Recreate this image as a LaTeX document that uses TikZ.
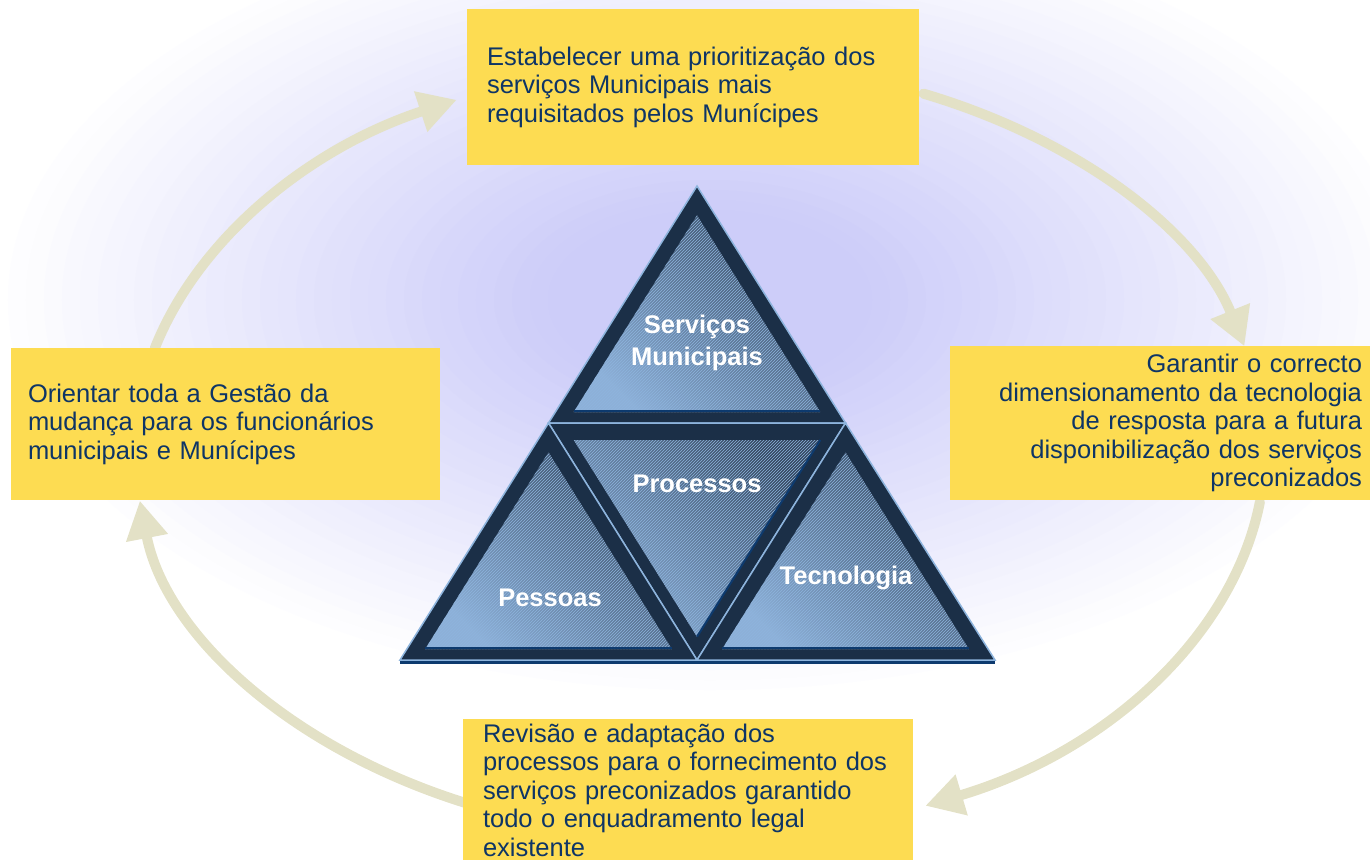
\documentclass[tikz,border=0pt]{standalone}
\usepackage{fontspec}
\setmainfont{Liberation Sans}
\usetikzlibrary{arrows.meta,calc,patterns}

\definecolor{boxyellow}{HTML}{FDDC52}
\definecolor{textnavy}{HTML}{0E3566}
\definecolor{arrowbeige}{HTML}{E3E1C6}
\definecolor{trinavy}{HTML}{1B2F47}
\definecolor{triedge}{HTML}{8DB4DD}
\definecolor{facedark}{HTML}{34475F}
\definecolor{facelight}{HTML}{8DB0D8}
\definecolor{baseblue}{HTML}{0D3A6E}
\definecolor{glowa}{HTML}{CDCDF9}

\begin{document}
\begin{tikzpicture}
[x=1pt, y=-1pt,
 box/.style={fill=boxyellow, text=textnavy, font=\fontsize{25.5}{28.5}\selectfont, inner ysep=0pt},
 cyc/.style={draw=arrowbeige, line width=10pt, line cap=round, -{Triangle[length=38pt,width=40pt]}},
 tri/.style={fill=trinavy, draw=triedge, line width=1.5pt, line join=miter},
 face/.style={left color=facedark, right color=facelight, shading angle=-45},
 hatch/.style={pattern=north east lines, pattern color=triedge, fill opacity=0.3},
 lbl/.style={text=white, font=\fontsize{25.5}{32}\selectfont\bfseries, align=center}
]
\useasboundingbox (0,0) rectangle (1370,859);

% soft glow behind the triangle
\coordinate (gc) at (710,300);
\foreach \k in {1,...,40}{
  \pgfmathsetmacro\r{1.0-(\k-1)/40}
  \pgfmathsetmacro\p{min(100,100*(1-\r)/0.76)}
  \fill [glowa!\p!white] (gc) ellipse ({720*\r} and {400*\r});
}

% cycle of arrows round the triangle
\coordinate (ctr) at (700,450);
\coordinate (c1) at ($(ctr)+(195.2:565 and 388)$);
\coordinate (c2) at ($(ctr)+(293.3:565 and 388)$);
\coordinate (c3) at ($(ctr)+(7.7:565 and 388)$);
\coordinate (c4) at ($(ctr)+(114.6:565 and 388)$);
\draw [cyc] (c1) arc [start angle=195.2, end angle=244.5, x radius=565, y radius=388];
\draw [cyc] (c2) arc [start angle=293.3, end angle=344.5, x radius=565, y radius=388];
\draw [cyc] (c3) arc [start angle=7.7, end angle=66.5, x radius=565, y radius=388];
\draw [cyc] (c4) arc [start angle=114.6, end angle=172.5, x radius=565, y radius=388];

% triangle
\draw [tri] (697,186) -- (548.5,423) -- (845.5,423) -- cycle;
\draw [tri] (548.5,423) -- (845.5,423) -- (697,660) -- cycle;
\draw [tri] (548.5,423) -- (400,660) -- (697,660) -- cycle;
\draw [tri] (845.5,423) -- (697,660) -- (995,660) -- cycle;
\draw [baseblue, line width=2.5pt] (400,662.5) -- (995,662.5);
\shade [face] (697,215.3) -- (573.7,412) -- (820.3,412) -- cycle;
\shade [face] (573.7,440) -- (820.3,440) -- (697,636.7) -- cycle;
\shade [face] (548.5,452.3) -- (425.2,649) -- (671.8,649) -- cycle;
\shade [face] (845.5,452.3) -- (722.2,649) -- (968.8,649) -- cycle;
\fill [hatch] (697,215.3) -- (573.7,412) -- (820.3,412) -- cycle;
\fill [hatch] (573.7,440) -- (820.3,440) -- (697,636.7) -- cycle;
\fill [hatch] (548.5,452.3) -- (425.2,649) -- (671.8,649) -- cycle;
\fill [hatch] (845.5,452.3) -- (722.2,649) -- (968.8,649) -- cycle;
\draw [baseblue, line width=2pt] (573.7,411) -- (820.3,411);
\draw [baseblue, line width=2pt] (820.3,440) -- (697,636.7);
\draw [baseblue, line width=2pt] (425.2,648) -- (671.8,648);
\draw [baseblue, line width=2pt] (722.2,648) -- (968.8,648);

\node [lbl] (serv) at (697,343) {Serviços\\Municipais};
\node [lbl] (proc) at (697,484) {Processos};
\node [lbl] (pess) at (550,598) {Pessoas};
\node [lbl] (tecn) at (846,578) {Tecnologia};

% boxes
\node [box, minimum width=452, minimum height=156, text width=412, inner xsep=20pt, align=left] (prio) at (693,87)
 {Estabelecer uma prioritização dos\\serviços Municipais mais\\requisitados pelos Munícipes};
\node [box, minimum width=420, minimum height=154, text width=404, inner xsep=8pt, align=right] (dim) at (1160,423)
 {Garantir o correcto\\dimensionamento da tecnologia\\de resposta para a futura\\disponibilização dos serviços\\preconizados};
\node [box, minimum width=450, minimum height=142, text width=410, inner xsep=20pt, align=left] (rev) at (688,790)
 {Revisão e adaptação dos\\processos para o fornecimento dos\\serviços preconizados garantido\\todo o enquadramento legal\\existente};
\node [box, minimum width=429, minimum height=152, text width=395, inner xsep=17pt, align=left] (gest) at (225.5,424)
 {Orientar toda a Gestão da\\mudança para os funcionários\\municipais e Munícipes};
\end{tikzpicture}
\end{document}
